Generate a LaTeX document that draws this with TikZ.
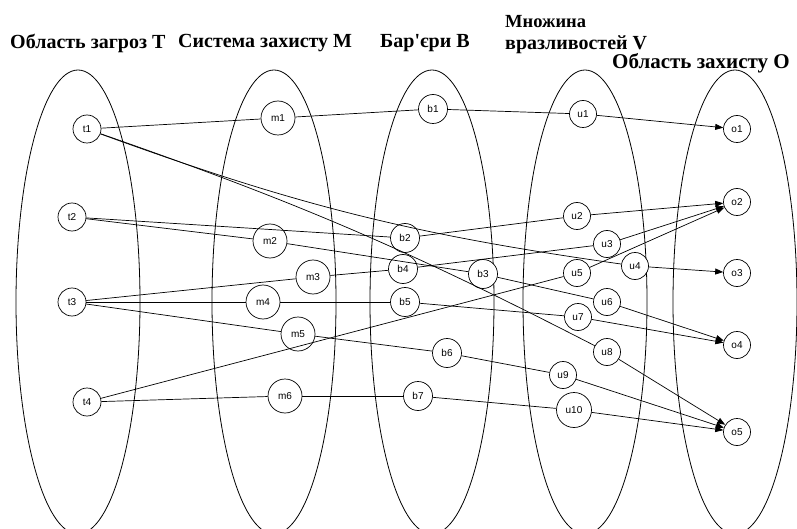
\documentclass[tikz,border=0pt]{standalone}
\usepackage{fontspec}
\setmainfont{Liberation Serif}
\setsansfont{Liberation Sans}
\usetikzlibrary{arrows.meta}
\begin{document}
\begin{tikzpicture}[x=1pt,y=-1pt,
  region/.style={draw,line width=0.8pt},
  vtx/.style={draw,circle,fill=white,inner sep=0pt,minimum size=28pt,line width=0.7pt,font=\sffamily\fontsize{10}{10}\selectfont},
  tvtx/.style={vtx,minimum size=28pt},
  mvtx/.style={vtx,minimum size=34pt},
  bvtx/.style={vtx,minimum size=29pt},
  uvtx/.style={vtx,minimum size=27pt},
  wvtx/.style={vtx,minimum size=35pt},
  ovtx/.style={vtx,minimum size=27pt},
  link/.style={line width=0.7pt},
  arr/.style={link,-{Triangle[length=8pt,width=6pt]}},
  title/.style={font=\bfseries\fontsize{20}{22}\selectfont,inner sep=0pt,anchor=west}
]
\useasboundingbox (0,0) rectangle (797,529);
\clip (0,0) rectangle (797,529);

% regions
\draw[region] (78,302) ellipse [x radius=62, y radius=232];
\draw[region] (274,302) ellipse [x radius=62, y radius=232];
\draw[region] (432,302) ellipse [x radius=62, y radius=232];
\draw[region] (585,302) ellipse [x radius=62, y radius=232];
\draw[region] (735,302) ellipse [x radius=62, y radius=232];

% titles
\node[title] (tT) at (10,43) {Область загроз Т};
\node[title] (tM) at (178,43) {Система захисту М};
\node[title] (tB) at (380,43) {Бар\textquotesingle єри В};
\node[title,font=\bfseries\fontsize{18.5}{20}\selectfont] (tV1) at (505,22) {Множина};
\node[title] (tV2) at (505,45) {вразливостей V};
\node[title,font=\bfseries\fontsize{21}{23}\selectfont] (tO) at (612,63) {Область захисту О};

% nodes
\node[tvtx] (t1) at (87,129) {t1};
\node[tvtx] (t2) at (72,217) {t2};
\node[tvtx] (t3) at (72,302) {t3};
\node[tvtx] (t4) at (87,402) {t4};

\node[mvtx] (m1) at (278,118) {m1};
\node[mvtx] (m2) at (270,241) {m2};
\node[mvtx] (m3) at (313,277) {m3};
\node[mvtx] (m4) at (263,302) {m4};
\node[mvtx] (m5) at (298,334) {m5};
\node[mvtx] (m6) at (285,396) {m6};

\node[bvtx] (b1) at (433,109) {b1};
\node[bvtx] (b2) at (405,238) {b2};
\node[bvtx] (b3) at (483,274) {b3};
\node[bvtx] (b4) at (403,269) {b4};
\node[bvtx] (b5) at (405,302) {b5};
\node[bvtx] (b6) at (447,353) {b6};
\node[bvtx] (b7) at (418,396) {b7};

\node[uvtx] (u1) at (583,114) {u1};
\node[uvtx] (u2) at (577,216) {u2};
\node[uvtx] (u3) at (607,244) {u3};
\node[uvtx] (u4) at (635,266) {u4};
\node[uvtx] (u5) at (577,273) {u5};
\node[uvtx] (u6) at (607,302) {u6};
\node[uvtx] (u7) at (578,317) {u7};
\node[uvtx] (u8) at (607,352) {u8};
\node[uvtx] (u9) at (563,375) {u9};
\node[wvtx] (u10) at (574,410) {u10};

\node[ovtx] (o1) at (737,129) {o1};
\node[ovtx] (o2) at (737,202) {o2};
\node[ovtx] (o3) at (737,273) {o3};
\node[ovtx] (o4) at (737,345) {o4};
\node[ovtx] (o5) at (737,432) {o5};

% connectors
\draw[link] (t1) -- (m1);
\draw[link] (m1) -- (b1);
\draw[link] (b1) -- (u1);
\draw[arr] (u1) -- (o1);

\draw[link] (t1) to[bend right=6] (u4);
\draw[arr] (u4) -- (o3);

\draw[link] (t1) to[bend left=4] (u8);
\draw[arr] (u8) -- (o5);

\draw[link] (t2) -- (m2);
\draw[link] (m2) -- (b3);
\draw[link] (b3) -- (u6);
\draw[arr] (u6) -- (o4);

\draw[link] (t2) -- (b2);
\draw[link] (b2) -- (u2);
\draw[arr] (u2) -- (o2);

\draw[link] (t3) -- (m3);
\draw[link] (m3) -- (b4);
\draw[link] (b4) -- (u3);
\draw[arr] (u3) -- (o2);

\draw[link] (t3) -- (m4);
\draw[link] (m4) -- (b5);
\draw[link] (b5) -- (u7);
\draw[arr] (u7) -- (o4);

\draw[link] (t3) -- (m5);
\draw[link] (m5) -- (b6);
\draw[link] (b6) -- (u9);
\draw[arr] (u9) -- (o5);

\draw[link] (t4) -- (u5);
\draw[arr] (u5) -- (o2);

\draw[link] (t4) -- (m6);
\draw[link] (m6) -- (b7);
\draw[link] (b7) -- (u10);
\draw[arr] (u10) -- (o5);
\end{tikzpicture}
\end{document}
